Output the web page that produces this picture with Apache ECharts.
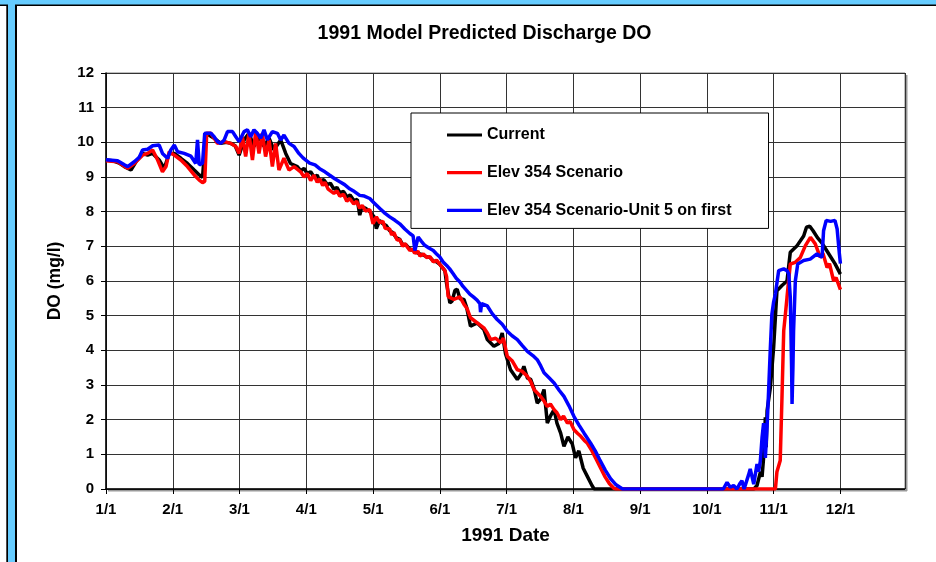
<!DOCTYPE html>
<html>
<head>
<meta charset="utf-8">
<script src="https://cdn.jsdelivr.net/npm/echarts@6/dist/echarts.min.js"></script>
<style>
html,body{margin:0;padding:0;background:#fff;}
#chart{width:936px;height:562px;}
</style>
</head>
<body>
<div id="chart"></div>
<script>
// Tick labels (x axis: evenly spaced month ticks, 30.5 day units)
const monthLabels = ['1/1','2/1','3/1','4/1','5/1','6/1','7/1','8/1','9/1','10/1','11/1','12/1'];
const seriesNames = ['Current','Elev 354 Scenario','Elev 354 Scenario-Unit 5 on first'];

// Current (black)
const currentDays = [0,3,6,8.4,11.4,13.7,16.7,19,21.3,24.3,26.6,28.9,31.2,34.2,37.2,40.3,42.6,44.1,45.6,49.4,52.4,55,57,59,60.8,63.1,65.3,67.6,69.9,72.2,74.5,76.7,79.8,82.1,84.3,
  87.4,89,90.5,91.9,93.5,95,96.5,97.6,99.5,101.1,102.5,104.1,105.5,106.8,108.5,110.2,111.5,113.2,114.8,115.9,117,118.5,120.5,122.5,123.5,125,126.5,128,129.6,131,132.5,134.2,135.5,137,138.8,140.5,142,143.4,145,146.4,148,149.5,151,152.5,
  154.8,155.6,157.1,158.1,159.4,160.4,161.7,163.5,164.7,166.5,169.6,172.6,174.2,177.2,179.5,181,182.5,184.8,187.9,189.5,190.9,192.5,194,195.5,197,198.6,200.1,201.6,203,204.7,206,207.7,209.2,211,213,214.5,216,218,220,222,223,296,297.4,298.1,299,299.7,300.4,301.2,301.6,302,303.5,305,306.5,308.8,311.1,312.6,315.7,318.7,320,321.5,323,325,327,329,331,333,335.5];
const currentDO = [9.49,9.47,9.4,9.3,9.2,9.44,9.68,9.63,9.68,9.49,9.25,9.68,9.68,9.54,9.39,9.2,9.06,8.99,10.26,10.12,9.97,10.0,9.97,9.9,9.63,10.07,10.26,9.88,10.16,9.88,10.12,9.78,10.07,9.68,9.39,
  9.3,9.18,9.25,9.1,9.15,9.0,9.05,8.88,8.92,8.78,8.82,8.65,8.7,8.55,8.58,8.42,8.48,8.32,8.35,7.9,8.15,8.1,8.0,7.85,7.51,7.75,7.65,7.6,7.45,7.4,7.25,7.2,7.05,7.05,6.92,6.88,6.82,6.78,6.75,6.7,6.68,6.58,6.55,6.48,
  6.3,5.92,5.37,5.42,5.73,5.76,5.49,5.47,5.25,4.7,4.79,4.6,4.31,4.12,4.2,4.5,3.9,3.44,3.16,3.3,3.54,3.2,3.16,2.9,2.48,2.6,2.87,1.9,2.1,2.29,1.9,1.61,1.23,1.5,1.3,0.9,1.1,0.6,0.35,0.1,0,0,0.1,0.14,0.5,0.35,0.9,2.07,1.2,2.26,2.93,4.09,5.72,5.87,6.0,6.83,7.02,7.3,7.55,7.58,7.45,7.25,7.1,6.9,6.7,6.5,6.2];

// Elev 354 Scenario (red)
const elevDays = [0,5.3,9.9,12.9,16.7,19,21.3,23.6,25.8,27.4,28.9,31.2,34.2,37.2,40.3,42.6,44.1,45.1,46,47.9,49.4,50.9,54,57,59.3,60.8,62.3,63.8,65.3,66.9,68.4,69.9,71.4,72.9,74.5,76,77.5,79,81.3,83.6,85.9,
  88.9,90.5,91.9,93.5,95,96.5,97.6,99,100,101.5,102.2,104.1,105.5,106.8,108.5,110,111.3,113.2,114.5,115.9,117,118.5,120.5,122,123.5,125.1,126.5,127.5,129.6,130.5,131.5,133,134.2,135.5,136.5,138.8,140,141,142.5,143.4,145,146.4,148,149.5,151,152.5,
  154.8,155.6,156.3,158.9,161.7,163.5,165,166.5,169.6,172.6,174.2,175.7,178,180.3,181.5,183.3,185.5,187.9,190,192.5,194,195.5,198.6,200,201.6,203,204.7,206,207.7,209,210.8,212,213.8,215.5,216.9,218.5,219.9,222,224,226,228,230,232,233,305.8,306.5,308,308.8,309.6,310.3,311.1,312.6,314.9,317.2,319.5,321.8,324,326.3,327.5,329.4,330.5,332.4,333.5,335.5];
const elevDO = [9.47,9.44,9.25,9.39,9.63,9.68,9.78,9.49,9.15,9.3,9.73,9.63,9.49,9.3,9.06,8.91,8.84,8.87,10.26,10.26,10.12,9.97,10.02,9.97,9.88,9.68,10.16,9.59,10.26,9.49,10.31,9.68,10.26,9.59,10.07,9.3,9.97,9.2,9.54,9.2,9.3,
  9.15,9.0,9.1,8.9,9.05,8.85,8.95,8.75,8.85,8.65,8.7,8.53,8.6,8.45,8.5,8.3,8.38,8.22,8.3,8.1,8.18,8.02,8.06,7.65,7.85,7.68,7.72,7.52,7.5,7.33,7.4,7.18,7.2,7.0,7.08,6.88,6.92,6.8,6.86,6.72,6.78,6.68,6.7,6.55,6.6,6.48,
  6.3,6.12,5.55,5.47,5.54,5.33,5.2,4.94,4.79,4.65,4.5,4.31,4.35,4.22,4.35,3.83,3.7,3.44,3.4,3.25,3.1,2.87,2.67,2.55,2.38,2.45,2.29,2.2,2.0,2.1,1.9,1.95,1.71,1.6,1.52,1.4,1.32,1.1,0.85,0.6,0.35,0.15,0.02,0,0,0.5,0.82,2.64,4.57,5.0,5.53,6.49,6.54,6.68,7.02,7.26,7.07,6.68,6.8,6.39,6.5,6.0,6.1,5.75];

// Elev 354 Scenario-Unit 5 on first (blue)
const unit5Days = [0,5.3,8.4,9.9,12.9,15.2,16.7,19,21.3,24.3,25.8,28.1,29.6,31.2,32.7,35.7,38.8,41,41.8,42.6,44.1,45.1,47.9,49.4,50.9,52.4,54,55.5,57.8,59.3,60.8,63.1,64.6,66.1,67.6,69.1,70.7,72.2,73.7,76,78.3,79.8,81.3,83.6,85.9,88.1,90,93,95.5,97.6,100,102.2,104.5,106.8,109,111.3,113.5,115.9,118,120.5,122.5,125.1,127.5,129.6,132,134.2,136.5,138.8,140.3,141.1,142.6,144,145.6,147.5,149.5,151,152.5,154,155.6,157,158.6,160,161.7,163,164.7,166.2,167.8,169.5,170.8,171.1,171.6,174.2,176.5,178.7,181,183.3,185.5,187.9,190,192.5,195,197,198.6,200.1,202.5,204.7,207,209.2,211.5,213.8,216,218.4,221.4,223.5,225.5,228,230.5,233,236,282,283.7,285.2,286.7,288.2,289.5,290.5,291.5,292.1,293.5,294.3,295.9,297.4,298.1,298.9,299.7,300.4,301.2,302,302.7,303.5,304.2,305,305.8,307.3,309.6,311.1,311.9,312.6,313.2,313.4,313.8,314.1,314.9,316,318.7,321.7,324.8,327.1,327.8,329,331,333,334,335,335.5];
const unit5DO = [9.5,9.47,9.35,9.3,9.44,9.57,9.78,9.8,9.9,9.92,9.68,9.54,9.78,9.92,9.73,9.68,9.6,9.39,10.07,9.35,9.4,10.26,10.26,10.16,10.02,9.97,10.07,10.31,10.31,10.16,10.02,10.31,10.36,10.16,10.36,10.26,10.12,10.36,10.07,10.31,10.26,10.07,10.21,9.97,9.88,9.68,9.55,9.4,9.35,9.24,9.15,9.05,8.95,8.86,8.78,8.66,8.58,8.47,8.45,8.38,8.25,8.09,7.95,7.85,7.75,7.65,7.5,7.37,7.3,6.88,7.27,7.15,7.03,6.95,6.88,6.78,6.69,6.55,6.45,6.35,6.21,6.08,5.97,5.85,5.73,5.62,5.54,5.45,5.35,5.1,5.35,5.28,5.05,4.89,4.75,4.55,4.42,4.31,4.15,3.97,3.85,3.73,3.55,3.35,3.2,3.06,2.85,2.67,2.4,2.09,1.85,1.61,1.32,1.1,0.85,0.55,0.3,0.12,0,0,0.19,0.05,0.1,0,0.15,0.24,0,0.05,0.4,0.58,0.14,0.72,0.5,0.8,1.49,1.9,0.9,1.8,2.84,4.09,5.05,5.4,5.63,6.3,6.35,6.3,6.2,5.53,3.5,2.45,3.5,4.57,6.0,6.49,6.59,6.63,6.78,6.68,7.45,7.75,7.72,7.75,7.5,6.8,6.5];

function zip(a, b) { return a.map((d, i) => [d, b[i]]); }

const FONT = "'Liberation Sans', Arial, sans-serif";
const LEGEND_ICON = 'path://M0,0 L35,0 L35,3.2 L0,3.2 Z';
const chart = echarts.init(document.getElementById('chart'), null, {renderer: 'canvas'});

chart.setOption({
  animation: false,
  backgroundColor: '#fff',
  graphic: [
    {type: 'rect', shape: {x: 0, y: 0, width: 936, height: 5}, style: {fill: '#66CCFF'}, silent: true},
    {type: 'rect', shape: {x: 0, y: 4.5, width: 936, height: 1.5}, style: {fill: '#000'}, silent: true},
    {type: 'rect', shape: {x: 6.3, y: 5, width: 1.7, height: 557}, style: {fill: '#000'}, silent: true},
    {type: 'rect', shape: {x: 15, y: 5, width: 2, height: 557}, style: {fill: '#000'}, silent: true},
    {type: 'rect', shape: {x: 8, y: 0, width: 7, height: 562}, style: {fill: '#66CCFF'}, silent: true},
    {type: 'rect', shape: {x: 906, y: 75, width: 1.5, height: 416}, style: {fill: '#999'}, silent: true},
    {type: 'rect', shape: {x: 108, y: 490, width: 799, height: 1.5}, style: {fill: '#999'}, silent: true},
    {type: 'text', x: 484.5, y: 34, style: {text: '1991 Model Predicted Discharge DO', fontFamily: FONT, fontWeight: 'bold', fontSize: 19.5, fill: '#000', align: 'center', verticalAlign: 'middle'}, silent: true}
  ],
  grid: {left: 106, top: 73, width: 799, height: 416, show: true, borderColor: '#808080', borderWidth: 1, backgroundColor: '#fff'},
  legend: {
    data: seriesNames.map(n => ({name: n, icon: LEGEND_ICON})),
    orient: 'vertical',
    left: 411, top: 113,
    padding: [14, 37, 10, 36],
    itemWidth: 35, itemHeight: 14, itemGap: 21.7,
    backgroundColor: '#fff', borderColor: '#000', borderWidth: 1,
    textStyle: {fontFamily: FONT, fontWeight: 'bold', fontSize: 16, color: '#000', lineHeight: 16}
  },
  xAxis: {
    type: 'value', min: 0, max: 365, interval: 30.5,
    name: '1991 Date', nameLocation: 'middle', nameGap: 37,
    nameTextStyle: {fontFamily: FONT, fontWeight: 'bold', fontSize: 19, color: '#000'},
    axisLine: {show: true, onZero: false, lineStyle: {color: '#000', width: 1.5}},
    axisTick: {show: true, length: 5, lineStyle: {color: '#000'}},
    axisLabel: {
      margin: 13, showMaxLabel: false,
      fontFamily: FONT, fontWeight: 'bold', fontSize: 15, color: '#000',
      formatter: function (v) { const i = Math.round(v / 30.5); return monthLabels[i] || ''; }
    },
    splitLine: {show: true, lineStyle: {color: '#333', width: 1}}
  },
  yAxis: {
    type: 'value', min: 0, max: 12, interval: 1,
    name: 'DO (mg/l)', nameLocation: 'middle', nameGap: 42, nameRotate: 90,
    nameTextStyle: {fontFamily: FONT, fontWeight: 'bold', fontSize: 17.5, color: '#000'},
    axisLine: {show: true, lineStyle: {color: '#000', width: 1.5}},
    axisTick: {show: true, length: 5, lineStyle: {color: '#000'}},
    axisLabel: {margin: 12, fontFamily: FONT, fontWeight: 'bold', fontSize: 15, color: '#000'},
    splitLine: {show: true, lineStyle: {color: '#333', width: 1}}
  },
  series: [
    {name: seriesNames[0], type: 'line', symbol: 'none', data: zip(currentDays, currentDO), lineStyle: {color: '#000000', width: 3.5}, itemStyle: {color: '#000000'}},
    {name: seriesNames[1], type: 'line', symbol: 'none', data: zip(elevDays, elevDO), lineStyle: {color: '#FF0000', width: 3.5}, itemStyle: {color: '#FF0000'}},
    {name: seriesNames[2], type: 'line', symbol: 'none', data: zip(unit5Days, unit5DO), lineStyle: {color: '#0000FF', width: 3.5}, itemStyle: {color: '#0000FF'}}
  ]
});
</script>
</body>
</html>
